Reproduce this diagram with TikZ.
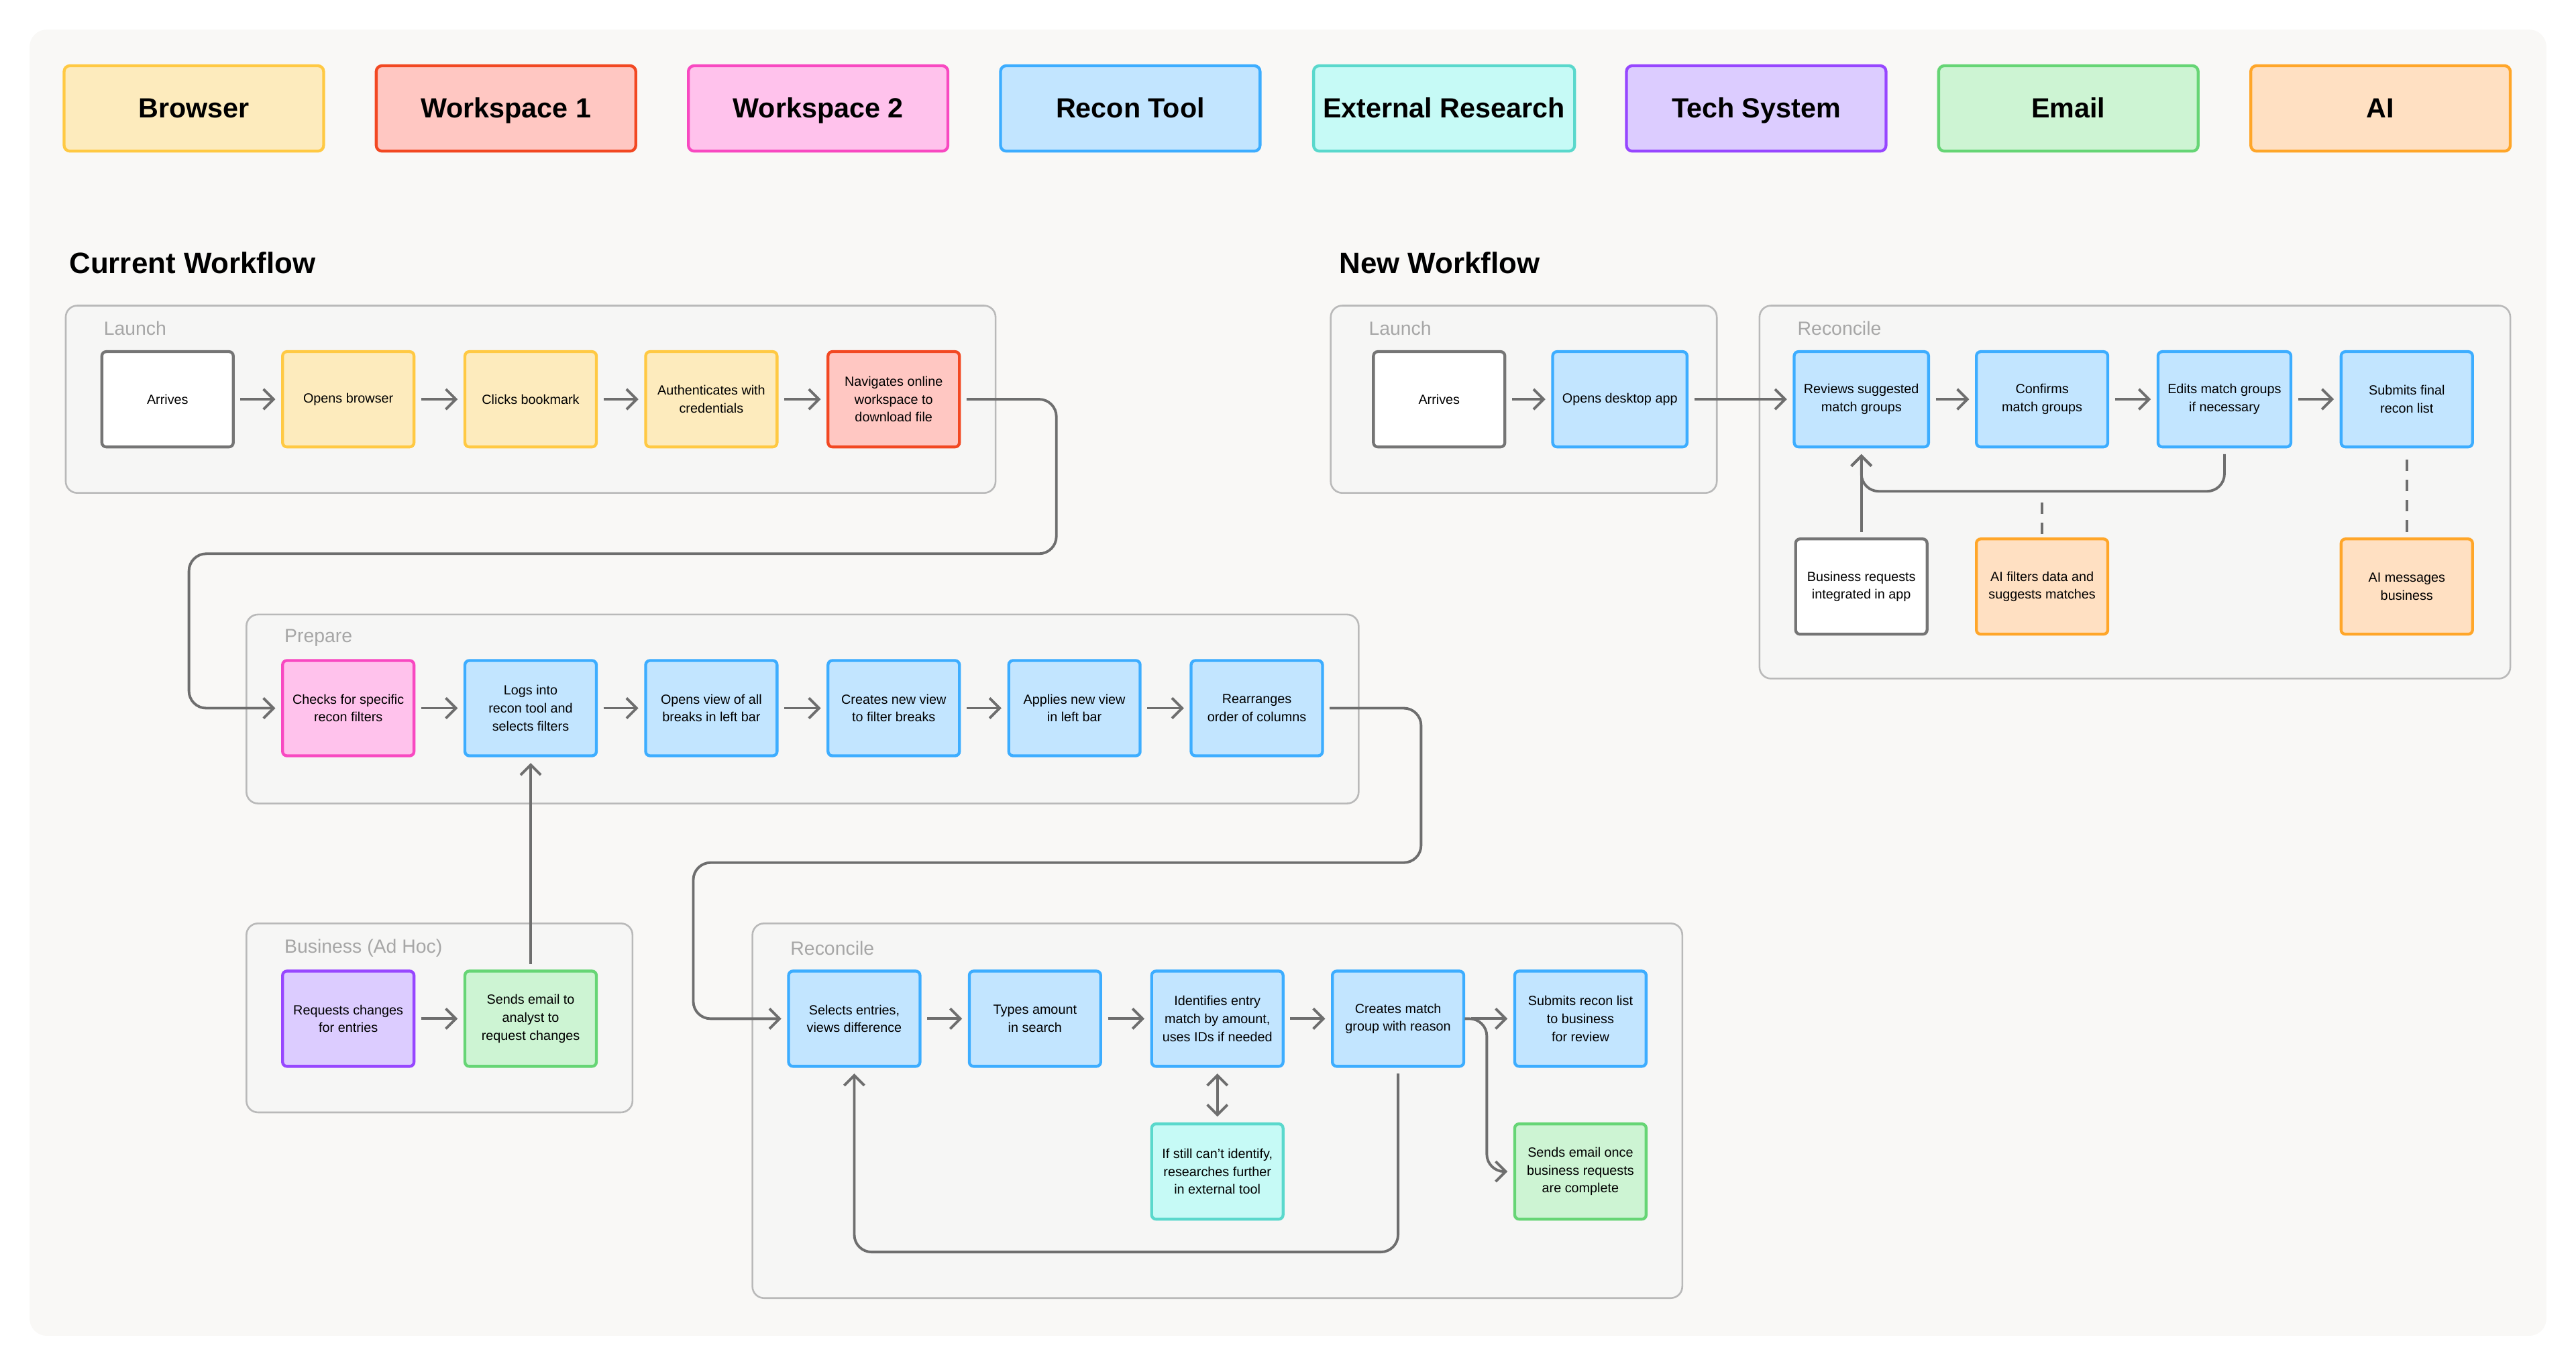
\documentclass[tikz,border=0pt]{standalone}
\usepackage{fontspec}
\setmainfont{Liberation Sans}
\usetikzlibrary{arrows.meta}
\definecolor{bgc}{HTML}{F9F8F6}
\definecolor{grpc}{HTML}{F6F6F5}
\definecolor{linec}{HTML}{6E6E6E}
\definecolor{brF}{HTML}{FDEBBD}\definecolor{brD}{HTML}{FFC943}
\definecolor{waF}{HTML}{FFC7C2}\definecolor{waD}{HTML}{F24822}
\definecolor{wbF}{HTML}{FFC2EC}\definecolor{wbD}{HTML}{F849C1}
\definecolor{rtF}{HTML}{C2E5FF}\definecolor{rtD}{HTML}{3DADFF}
\definecolor{exF}{HTML}{C6FAF6}\definecolor{exD}{HTML}{5AD8CC}
\definecolor{tsF}{HTML}{DCCCFF}\definecolor{tsD}{HTML}{9747FF}
\definecolor{emF}{HTML}{CDF4D3}\definecolor{emD}{HTML}{66D575}
\definecolor{aiF}{HTML}{FFE0C2}\definecolor{aiD}{HTML}{FFA629}
\definecolor{whD}{HTML}{757575}
\tikzset{
  box/.style={draw, rounded corners=1.5pt, line width=1pt, minimum width=1.6cm, minimum height=1.16cm,
    align=center, font=\fontsize{4.6}{6.2}\selectfont},
  key/.style={draw, rounded corners=2pt, line width=1pt, minimum width=3.16cm, minimum height=1.04cm,
    text height=1.6ex, text depth=0.4ex, font=\fontsize{9.6}{11}\selectfont\bfseries},
  grp/.style={draw=gray!55, fill=grpc, rounded corners=4pt, line width=0.6pt},
  grplabel/.style={anchor=west, text=gray!70, font=\fontsize{6.6}{8}\selectfont},
  head/.style={anchor=west, font=\fontsize{10.2}{12}\selectfont\bfseries},
  br/.style={box, fill=brF, draw=brD}, wa/.style={box, fill=waF, draw=waD},
  wb/.style={box, fill=wbF, draw=wbD}, rt/.style={box, fill=rtF, draw=rtD},
  ex/.style={box, fill=exF, draw=exD}, ts/.style={box, fill=tsF, draw=tsD},
  em/.style={box, fill=emF, draw=emD}, ai/.style={box, fill=aiF, draw=aiD},
  wh/.style={box, fill=white, draw=whD},
  flow/.style={->, draw=linec, line width=0.9pt, rounded corners=6pt, shorten >=2pt, shorten <=2pt},
  link/.style={draw=linec, line width=0.9pt, dash pattern=on 4pt off 3pt}
}
\begin{document}
\begin{tikzpicture}[x=0.02cm, y=-0.02cm, >={Straight Barb[length=3.5pt,width=7pt]}]
\useasboundingbox (0,0) rectangle (1568,831);
\fill[bgc, rounded corners=6pt] (18,18) rectangle (1550,813);

% Legend
\node[key, fill=brF, draw=brD] (kbr) at (118,66) {Browser};
\node[key, fill=waF, draw=waD] (kwa) at (308,66) {Workspace 1};
\node[key, fill=wbF, draw=wbD] (kwb) at (498,66) {Workspace 2};
\node[key, fill=rtF, draw=rtD] (krt) at (688,66) {Recon Tool};
\node[key, fill=exF, draw=exD] (kex) at (879,66) {External Research};
\node[key, fill=tsF, draw=tsD] (kts) at (1069,66) {Tech System};
\node[key, fill=emF, draw=emD] (kem) at (1259,66) {Email};
\node[key, fill=aiF, draw=aiD] (kai) at (1449,66) {AI};

% Current workflow
\node[head] (hcur) at (36,160) {Current Workflow};
\draw[grp] (40,186) rectangle (606,300);
\node[grplabel] (glaunch) at (57,200) {Launch};
\node[wh] (arr) at (102,243) {Arrives};
\node[br] (opn) at (212,243) {Opens browser};
\node[br] (clk) at (323,243) {Clicks bookmark};
\node[br] (aut) at (433,243) {Authenticates with\\credentials};
\node[wa] (nav) at (544,243) {Navigates online\\workspace to\\download file};

\draw[grp] (150,374) rectangle (827,489);
\node[grplabel] (gprep) at (167,388) {Prepare};
\node[wb] (chk) at (212,431) {Checks for specific\\recon filters};
\node[rt] (log) at (323,431) {Logs into\\recon tool and\\selects filters};
\node[rt] (ovw) at (433,431) {Opens view of all\\breaks in left bar};
\node[rt] (cvw) at (544,431) {Creates new view\\to filter breaks};
\node[rt] (avw) at (654,431) {Applies new view\\in left bar};
\node[rt] (rea) at (765,431) {Rearranges\\order of columns};

\draw[grp] (150,562) rectangle (385,677);
\node[grplabel] (gbus) at (167,577) {Business (Ad Hoc)};
\node[ts] (req) at (212,620) {Requests changes\\for entries};
\node[em] (snd) at (323,620) {Sends email to\\analyst to\\request changes};

\draw[grp] (458,562) rectangle (1024,790);
\node[grplabel] (grec) at (475,577) {Reconcile};
\node[rt] (sel) at (520,620) {Selects entries,\\views difference};
\node[rt] (typ) at (630,620) {Types amount\\in search};
\node[rt] (idn) at (741,620) {Identifies entry\\match by amount,\\uses IDs if needed};
\node[rt] (cre) at (851,620) {Creates match\\group with reason};
\node[rt] (sub) at (962,620) {Submits recon list\\to business\\for review};
\node[ex] (res) at (741,713) {If still can’t identify,\\researches further\\in external tool};
\node[em] (eml) at (962,713) {Sends email once\\business requests\\are complete};

\draw[flow] (arr) -- (opn);
\draw[flow] (opn) -- (clk);
\draw[flow] (clk) -- (aut);
\draw[flow] (aut) -- (nav);
\draw[flow] (nav.east) -| (643,337) -| (115,431) -- (chk.west);
\draw[flow] (chk) -- (log);
\draw[flow] (log) -- (ovw);
\draw[flow] (ovw) -- (cvw);
\draw[flow] (cvw) -- (avw);
\draw[flow] (avw) -- (rea);
\draw[flow] (req) -- (snd);
\draw[flow] (snd) -- (log);
\draw[flow] (rea.east) -| (865,525) -| (422,620) -- (sel.west);
\draw[flow] (sel) -- (typ);
\draw[flow] (typ) -- (idn);
\draw[flow] (idn) -- (cre);
\draw[flow] (cre) -- (sub);
\draw[flow, <->] (idn) -- (res);
\draw[flow] (cre.south) -- (851,762) -| (sel.south);
\draw[flow] (895,620) -- (905,620) -- (905,713) -- (eml.west);

% New workflow
\node[head] (hnew) at (809,160) {New Workflow};
\draw[grp] (810,186) rectangle (1045,300);
\node[grplabel] (glaunch2) at (827,200) {Launch};
\node[wh] (arr2) at (876,243) {Arrives};
\node[rt] (opd) at (986,243) {Opens desktop app};

\draw[grp] (1071,186) rectangle (1528,413);
\node[grplabel] (grec2) at (1088,200) {Reconcile};
\node[rt] (rev) at (1133,243) {Reviews suggested\\match groups};
\node[rt] (cnf) at (1243,243) {Confirms\\match groups};
\node[rt] (edt) at (1354,243) {Edits match groups\\if necessary};
\node[rt] (fin) at (1465,243) {Submits final\\recon list};
\node[wh] (bri) at (1133,357) {Business requests\\integrated in app};
\node[ai] (aif) at (1243,357) {AI filters data and\\suggests matches};
\node[ai] (aim) at (1465,357) {AI messages\\business};

\draw[flow] (arr2) -- (opd);
\draw[flow] (opd) -- (rev);
\draw[flow] (rev) -- (cnf);
\draw[flow] (cnf) -- (edt);
\draw[flow] (edt) -- (fin);
\draw[flow] (edt.south) -- (1354,299) -- (1133,299) -- (rev.south);
\draw[flow] (bri) -- (rev);
\draw[link] (aif.north) ++(0,-2) -- (1243,302);
\draw[link, shorten <=2pt, shorten >=2pt] (aim) -- (fin);
\end{tikzpicture}
\end{document}
